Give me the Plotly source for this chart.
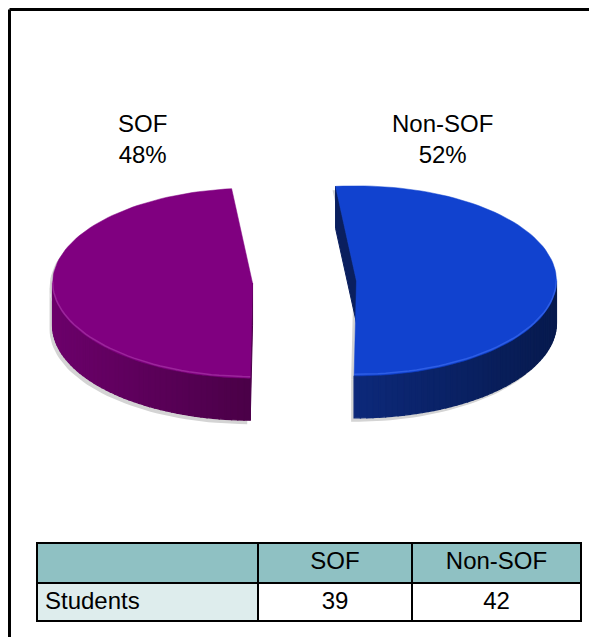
import math
import plotly.graph_objects as go

# ---- data ----
categories = ["SOF", "Non-SOF"]
students = [39, 42]
row_label = "Students"

# ---- style / layout params ----
W, H = 597, 637
OFF = 8.0   # page body margin: map page pixels onto the axes
FONT = "Liberation Sans, Arial, sans-serif"
top_colors = ["#800080", "#1142CF"]
side_light = ["#6C006B", "#0D2A7E"]
side_dark = ["#4A0047", "#071A4E"]
face_colors = ["#4E004C", "#0A1F5E"]
rim_colors = ["#A735A7", "#3A6AF0"]
CX, CY = 304.5, 282.0      # pie centre (top surface), page pixel units
RX, RY = 200.0, 95.0       # ellipse radii
DEPTH = 42.0
EXPLODE = 52.0
START = 96.0               # first slice edge angle (deg, math convention)

total = sum(students)
fracs = [v / total for v in students]

def px_x(X):
    return (X - OFF) / W

def px_y(Y):
    return 1 - (Y - OFF) / H

def lerp_col(c1, c2, t):
    a = [int(c1[i:i + 2], 16) for i in (1, 3, 5)]
    b = [int(c2[i:i + 2], 16) for i in (1, 3, 5)]
    return "rgb(%d,%d,%d)" % tuple(round(a[k] + (b[k] - a[k]) * t) for k in range(3))

def pt(cx, cy, ang, dz=0.0):
    r = math.radians(ang)
    return cx + RX * math.cos(r), cy - RY * math.sin(r) + dz

fig = go.Figure()

def poly(xs, ys, color, line_color=None, width=0):
    fig.add_trace(go.Scatter(
        x=xs + [xs[0]], y=ys + [ys[0]], mode="lines", fill="toself",
        fillcolor=color, line=dict(color=line_color or color, width=width),
        hoverinfo="skip", showlegend=False))

# slice angular intervals: SOF counter-clockwise from START, Non-SOF clockwise from START
spans = [(START, START + 360 * fracs[0]), (START - 360 * fracs[1], START)]

for i, (lo, hi) in enumerate(spans):
    mid = (lo + hi) / 2
    cx = CX + EXPLODE * math.cos(math.radians(mid))
    cy = CY - EXPLODE * (RY / RX) * math.sin(math.radians(mid))
    n = 90
    angs = [lo + (hi - lo) * k / n for k in range(n + 1)]

    # top surface polygon
    tx, ty = [cx], [cy]
    for a in angs:
        x, y = pt(cx, cy, a)
        tx.append(x); ty.append(y)

    # front part of outer wall (sin <= 0)
    base = 180.0
    while base > lo:
        base -= 360
    while base + 360 < lo:
        base += 360
    fronts = []
    for b in (base, base + 360, base - 360):
        s, e = max(lo, b), min(hi, b + 180)
        if e > s:
            fronts.append((s, e))

    # soft shadow
    sx = [x - 3 for x in tx]
    sy = [y + 4 for y in ty]
    poly(sx, sy, "#D4D4D4")
    for (s, e) in fronts:
        m = 40
        aa = [s + (e - s) * k / m for k in range(m + 1)]
        qx = [pt(cx, cy, a)[0] - 3 for a in aa] + [pt(cx, cy, a, DEPTH)[0] - 3 for a in aa[::-1]]
        qy = [pt(cx, cy, a)[1] + 4 for a in aa] + [pt(cx, cy, a, DEPTH)[1] + 4 for a in aa[::-1]]
        poly(qx, qy, "#D4D4D4")

    # side wall with horizontal gradient
    xmin, xmax = min(tx), max(tx)
    for (s, e) in fronts:
        m = 50
        for k in range(m):
            a1 = s + (e - s) * k / m
            a2 = s + (e - s) * (k + 1) / m
            p1, p2 = pt(cx, cy, a1), pt(cx, cy, a2)
            q1, q2 = pt(cx, cy, a1, DEPTH), pt(cx, cy, a2, DEPTH)
            t = ((p1[0] + p2[0]) / 2 - xmin) / (xmax - xmin)
            col = lerp_col(side_light[i], side_dark[i], t)
            poly([p1[0], p2[0], q2[0], q1[0]], [p1[1], p2[1], q2[1], q1[1]], col, col, 1.3)

    # visible cut faces
    for a, nrm in ((hi, hi + 90), (lo, lo - 90)):
        if math.sin(math.radians(nrm)) < 0:
            r0 = pt(cx, cy, a)
            r1 = pt(cx, cy, a, DEPTH)
            poly([cx, r0[0], r1[0], cx], [cy, r0[1], r1[1], cy + DEPTH], face_colors[i],
                 face_colors[i], 1)

    # top surface
    poly(tx, ty, top_colors[i], top_colors[i], 0.5)

    # rim highlight on the front edge
    for (s, e) in fronts:
        m = 40
        aa = [s + (e - s) * k / m for k in range(m + 1)]
        fig.add_trace(go.Scatter(
            x=[pt(cx, cy, a, -1.5)[0] for a in aa], y=[pt(cx, cy, a, -1.5)[1] for a in aa],
            mode="lines", line=dict(color=rim_colors[i], width=1.5), opacity=0.7,
            hoverinfo="skip", showlegend=False))

# data labels
label_xy = [(142, 139), (442, 139)]
for i, cat in enumerate(categories):
    fig.add_annotation(x=label_xy[i][0], y=label_xy[i][1], xref="x", yref="y",
                       text="%s<br>%d%%" % (cat, round(100 * fracs[i])), showarrow=False,
                       font=dict(family=FONT, size=24, color="black"), align="center")

# data table
tbl_x0, tbl_x1, tbl_y0, tbl_y1 = 37, 581, 543, 621
fig.add_trace(go.Table(
    domain=dict(x=[px_x(tbl_x0), px_x(tbl_x1)], y=[px_y(tbl_y1 + 2), px_y(tbl_y0)]),
    columnwidth=[221, 154, 169],
    header=dict(values=[""] + categories, fill_color="#8FC1C3",
                line=dict(color="black", width=2), height=40,
                align=["left", "center", "center"],
                font=dict(family=FONT, size=24, color="black")),
    cells=dict(values=[[row_label]] + [[v] for v in students],
               fill_color=[["#DEEDED"], ["white"], ["white"]],
               line=dict(color="black", width=2), height=38,
               align=["left", "center", "center"],
               font=dict(family=FONT, size=24, color="black")),
))

# outer frame (left and top edges visible); kept just inside the drawing area
FR = 9.5
fig.add_shape(type="line", xref="paper", yref="paper", x0=px_x(FR), x1=1.02,
              y0=px_y(FR), y1=px_y(FR), line=dict(color="black", width=3))
fig.add_shape(type="line", xref="paper", yref="paper", x0=px_x(FR), x1=px_x(FR),
              y0=-0.02, y1=px_y(FR), line=dict(color="black", width=3))

fig.update_layout(
    width=W, height=H, margin=dict(l=0, r=0, t=0, b=0),
    paper_bgcolor="white", plot_bgcolor="white", showlegend=False,
    xaxis=dict(range=[OFF, OFF + W], visible=False, domain=[0, 1], fixedrange=True),
    yaxis=dict(range=[OFF + H, OFF], visible=False, domain=[0, 1], fixedrange=True),
)
fig.write_html("out.html")
